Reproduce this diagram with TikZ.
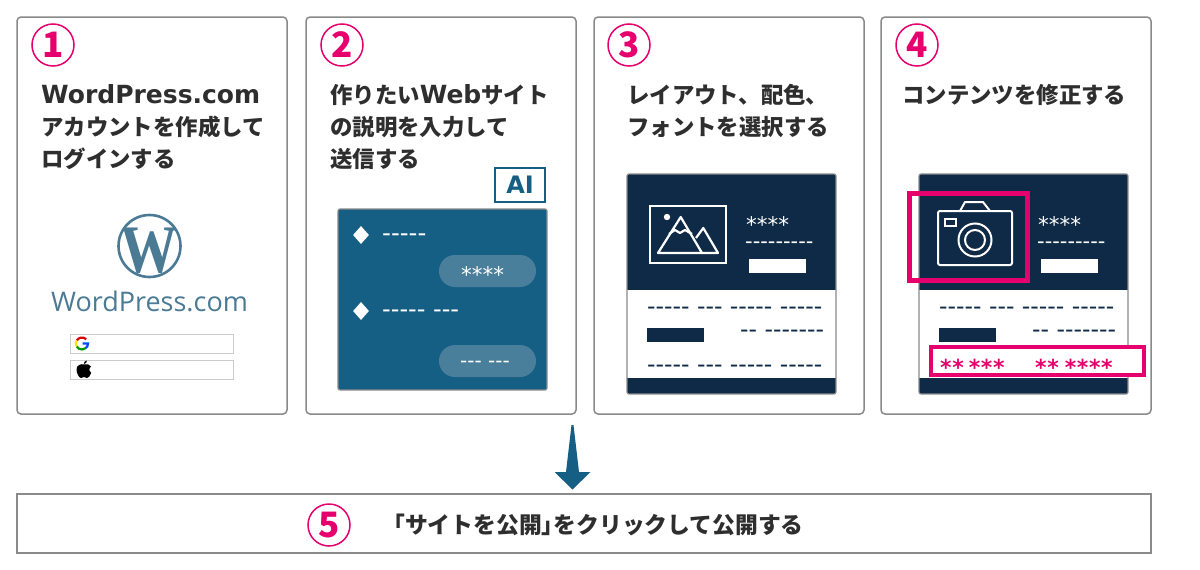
\documentclass[tikz,border=0pt]{standalone}
\usepackage{fontspec}
\setmainfont{Noto Sans CJK JP}
\newfontfamily\latfont{DejaVu Sans}
\newfontfamily\logofont{Open Sans}
\newfontfamily\wfont{Liberation Serif}
\usetikzlibrary{positioning,shapes.geometric,scopes}
\definecolor{pinkc}{HTML}{E6006E}
\definecolor{bluec}{HTML}{165F84}
\definecolor{pillc}{HTML}{4A7F9C}
\definecolor{navyc}{HTML}{0F2A47}
\definecolor{logoc}{HTML}{4A7A94}
\definecolor{edgec}{HTML}{8A8A8A}
\definecolor{inkc}{HTML}{2E2E2E}
\newcommand{\lat}[1]{{\latfont\fontsize{25}{32}\selectfont #1}}
\newcommand{\dashes}[2]{{\latfont\fontsize{#1}{#1}\selectfont #2}}
\newcommand{\stars}[2]{{\latfont\fontsize{#1}{#1}\selectfont #2}}
\tikzset{card/.style={draw=edgec, line width=1.5pt, rounded corners=4pt, fill=white, minimum width=270pt, minimum height=397pt, inner sep=0},
  numcirc/.style={circle, draw=pinkc, line width=1.5pt, minimum size=42pt, inner sep=0, text=pinkc, font=\fontsize{35}{35}\selectfont\bfseries},
  headtext/.style={anchor=north west, align=left, inner sep=0, text=inkc, font=\fontsize{22.4}{32}\selectfont\bfseries},
  txt/.style={inner sep=0, anchor=base west},
  signbox/.style={draw=black!20, fill=white, line width=1pt, minimum width=163pt, minimum height=19pt, inner sep=0},
  pill/.style={fill=pillc, rounded corners=16pt, minimum width=97pt, minimum height=32pt, inner sep=0},
  qmark/.style={diamond, fill=white, minimum width=16pt, minimum height=18pt, inner sep=0}}
% top part and body of the page sketch, used in cards 3 and 4
\newcommand{\pagesketch}[1]{
  \fill[navyc] (627,174) rectangle (836,290);
  \fill[navyc] (627,378) rectangle (836,394);
  \draw[edgec, line width=1.2pt, rounded corners=2pt] (627,174) rectangle (836,394);
  \node[txt, text=white] (#1stars) at (746,232) {\stars{21.5}{****}};
  \node[txt, text=white] (#1line) at (745,248.5) {\dashes{21}{---------}};
  \node[fill=white, minimum width=57pt, minimum height=14pt, inner sep=0] (#1btn) at (777.5,266) {};
  \node[txt, text=navyc] (#1rowa) at (647,314.5) {\dashes{23.5}{----- --- ----- -----}};
  \node[fill=navyc, minimum width=57pt, minimum height=14pt, inner sep=0] (#1tag) at (675,335) {};
  \node[txt, text=navyc] (#1rowb) at (740,337.5) {\dashes{23.5}{-- -------}};
}

\begin{document}
\begin{tikzpicture}[x=1pt,y=-1pt]
\useasboundingbox (0,0) rectangle (1200,570);
\fill[white] (0,0) rectangle (1200,570);

\node[card] (card1) at (152,215.5) {};
\node[card] (card2) at (441,215.5) {};
\node[card] (card3) at (729,215.5) {};
\node[card] (card4) at (1016,215.5) {};
\node[draw=edgec, line width=1.5pt, fill=white, minimum width=1134pt, minimum height=59pt, inner sep=0] (card5) at (584,523.5) {};

\node[numcirc] (num1) at (53,45) {1};
\node[numcirc] (num2) at (342,45) {2};
\node[numcirc] (num3) at (629,45) {3};
\node[numcirc] (num4) at (917,45) {4};
\node[numcirc] (num5) at (329,525) {5};

\node[headtext] (head1) at (41,84) {\lat{WordPress.com}\\アカウントを作成して\\ログインする};
\node[headtext] (head2) at (330,84) {作りたい\lat{Web}サイト\\の説明を入力して\\送信する};
\node[headtext] (head3) at (627,84) {レイアウト、配色、\\フォントを選択する};
\node[headtext] (head4) at (902,84) {コンテンツを修正する};
\node[txt, anchor=west, text=inkc, font=\fontsize{22.8}{26}\selectfont\bfseries] (head5) at (393,525) {\kern-11pt「サイトを公開」\kern-11ptをクリックして公開する};

% card 1
\draw[logoc, line width=2.6pt] (149.5,246) circle (31pt);
\begin{scope}
\clip (149.5,246) circle (31pt);
\node[inner sep=0, xscale=0.84, text=logoc, font=\wfont\bfseries\fontsize{68}{68}\selectfont] (wmark) at (149.5,251) {W};
\end{scope}
\node[inner sep=0, text=logoc, font=\logofont\fontsize{27}{27}\selectfont] (wptext) at (149.5,301) {WordPress.com};
\node[signbox] (google) at (151.5,343.5) {};
\node[signbox] (apple) at (151.5,369.5) {};
{ [line width=2.2pt]
  \draw[red!85!black] (86.24,339.26) arc (45:150:6pt);
  \draw[yellow!85!orange] (76.8,340.5) arc (150:210:6pt);
  \draw[green!60!black] (76.8,346.5) arc (210:310:6pt);
  \draw[blue!70!cyan] (85.86,348.1) arc (310:360:6pt) -- (82.5,343.5);
}
\fill[black] (84,364.5) .. controls (87,363.5) and (90,364.5) .. (91,366.5) .. controls (88.5,368.5) and (89,372) .. (91.2,373) .. controls (90,376) and (88.5,378) .. (87,378) .. controls (85.5,378) and (85,377) .. (84,377) .. controls (83,377) and (82.5,378) .. (81,378) .. controls (79,378) and (76.5,373) .. (76.5,369.5) .. controls (76.5,365) and (81,363.5) .. (84,364.5);
\fill[black] (83.8,364) .. controls (83.8,362) and (85,360.8) .. (87,360.5) .. controls (87,362.5) and (85.8,363.8) .. (83.8,364);

% card 2
\node[draw=bluec, line width=1.5pt, fill=white, minimum width=50pt, minimum height=34pt, inner sep=0, text=bluec, font=\latfont\bfseries\fontsize{24}{24}\selectfont] (aibox) at (520,185) {AI};
\fill[bluec] (338,209) rectangle (547,390);
\draw[edgec, line width=1.2pt, rounded corners=2pt] (338,209) rectangle (547,390);
\node[qmark] (qmarka) at (361,235) {};
\node[qmark] (qmarkb) at (361,311) {};
\node[txt, text=white] (qa) at (382,241.5) {\dashes{24.5}{-----}};
\node[txt, text=white] (qb) at (382,317.5) {\dashes{24}{----- ---}};
\node[pill] (pilla) at (487.5,271) {};
\node[pill] (pillb) at (487.5,361) {};
\node[txt, text=white] (ansa) at (461,282) {\stars{21.5}{****}};
\node[txt, text=white] (ansb) at (460,367) {\dashes{20}{--- ---}};

% card 3
\pagesketch{c}
\node[txt, text=navyc] (crowc) at (647,372.5) {\dashes{23.5}{----- --- ----- -----}};
\draw[white, line width=2.6pt] (650,206) rectangle (726,263);
\fill[white] (667,217) circle (3.2pt);
{ [white, line width=2.2pt, line join=round]
  \draw (658,253) -- (680.7,217) -- (702,253) -- cycle;
  \draw (696,238) -- (703.3,228) -- (718,253) -- (702,253);
  \draw (669,234) -- (675,230) -- (680,233) -- (685,230) -- (692,234);
}

% card 4
\begin{scope}[xshift=292pt]
\pagesketch{d}
\end{scope}
\draw[white, line width=2pt, rounded corners=2pt] (938,211) rectangle (1012,265);
\draw[white, line width=2pt, line join=round] (960,211) -- (965,202) -- (983,202) -- (990,211);
\draw[white, line width=1.6pt] (945,219) rectangle (956,226);
\draw[white, line width=2pt] (975,240) circle (16.5pt);
\draw[white, line width=2pt] (975,240) circle (10pt);
\draw[pinkc, line width=5pt] (909.5,193.5) rectangle (1027.5,280.5);
\draw[pinkc, line width=4pt, fill=white] (931,347) rectangle (1144,375);
\node[txt, text=pinkc] (fixa) at (940,375) {\stars{22}{\bfseries *\kern0.6pt*\kern5pt *\kern0.6pt*\kern0.6pt*}};
\node[txt, text=pinkc] (fixb) at (1035,375) {\stars{22}{\bfseries *\kern0.6pt*\kern6pt *\kern0.6pt*\kern0.6pt*\kern0.6pt*}};

% arrow down to the last step
\coordinate (arrowtop) at (572.5,425);
\coordinate (arrowtip) at (572.5,489.5);
\fill[bluec] (arrowtop) -- ++(1,0) -- ++(5.5,47) -- ++(11.5,0) -- (arrowtip) -- ++(-18,-17.5) -- ++(11.5,0) -- ++(5.5,-47) -- cycle;
\end{tikzpicture}
\end{document}
